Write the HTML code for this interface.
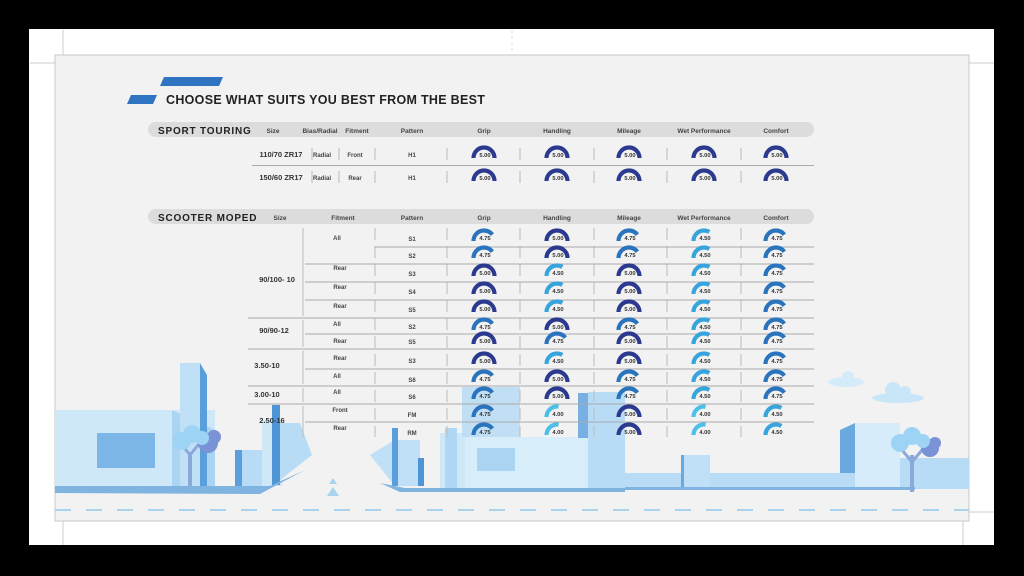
<!DOCTYPE html>
<html><head><meta charset="utf-8"><style>
html,body{margin:0;padding:0;background:#000;}
svg{display:block;font-family:"Liberation Sans",sans-serif;}
.g5{fill:none;stroke:#2b3a8f;stroke-width:4.2}
.g475{fill:none;stroke:#2a74bd;stroke-width:4.2;stroke-dasharray:26 40}
.g45{fill:none;stroke:#37a4dc;stroke-width:4.2;stroke-dasharray:22 40}
.g4{fill:none;stroke:#4cc0e8;stroke-width:4.2;stroke-dasharray:18 40}
.v{font-size:5.8px;fill:#333;text-anchor:middle;font-weight:bold}
.h{font-size:6.5px;fill:#444;text-anchor:middle;font-weight:bold}
.c{font-size:6px;fill:#444;text-anchor:middle;font-weight:bold}
.s{font-size:7.5px;fill:#333;text-anchor:middle;font-weight:bold}
</style></head><body>
<svg width="1024" height="576" viewBox="0 0 1024 576" xmlns="http://www.w3.org/2000/svg">
<defs><path id="a" d="M-10.5,0 A10.5,10.5 0 0 1 10.5,0"/></defs>
<rect width="1024" height="576" fill="#000"/>
<rect x="29" y="29" width="965" height="516" fill="#fff"/>
<line x1="63" y1="30" x2="63" y2="55" stroke="#ccc"/><line x1="30" y1="63" x2="55" y2="63" stroke="#ccc"/>
<line x1="512" y1="30" x2="512" y2="55" stroke="#ddd" stroke-dasharray="3 3"/>
<line x1="969" y1="63" x2="994" y2="63" stroke="#ccc"/><line x1="963" y1="521" x2="963" y2="545" stroke="#ccc"/>
<line x1="63" y1="521" x2="63" y2="545" stroke="#ccc"/><line x1="969" y1="512" x2="994" y2="512" stroke="#ccc"/>
<rect x="55" y="55" width="914" height="466" fill="#f2f2f2" stroke="#c8c8c8"/>

<!-- city -->
<g>
<rect x="55" y="410" width="160" height="76" fill="#cfe8f8"/>
<polygon points="172,410 215,430 215,486 172,486" fill="#a9d4f2"/>
<rect x="97" y="433" width="58" height="35" fill="#7bb6e6"/>
<rect x="180" y="363" width="20" height="123" fill="#bfe0f7"/>
<polygon points="200,363 207,375 207,486 200,486" fill="#5a9fdc"/>
<rect x="235" y="450" width="27" height="36" fill="#b8dcf5"/><rect x="235" y="450" width="7" height="36" fill="#5a9fdc"/>
<rect x="262" y="420" width="20" height="66" fill="#cfe8f8"/>
<rect x="272" y="405" width="8" height="80" fill="#4f95d6"/>
<polygon points="280,423 300,423 312,455 280,480" fill="#b8dcf5"/>
<polygon points="55,486 270,486 305,470 260,494 55,493" fill="#7fb4e0"/>
<line x1="190" y1="486" x2="190" y2="452" stroke="#8aa9d9" stroke-width="4"/>
<line x1="190" y1="455" x2="178" y2="440" stroke="#8aa9d9" stroke-width="3"/>
<line x1="190" y1="455" x2="202" y2="440" stroke="#8aa9d9" stroke-width="3"/>
<circle cx="208" cy="443" r="10" fill="#7a92d6"/><circle cx="214" cy="437" r="7" fill="#7a92d6"/>
<circle cx="182" cy="441" r="9" fill="#9dd4f5"/><circle cx="192" cy="434" r="9" fill="#9dd4f5"/><circle cx="202" cy="438" r="7" fill="#9dd4f5"/>
<polygon points="333,478 337,484 329,484" fill="#a9d4ef"/><polygon points="333,487 339,496 327,496" fill="#a9d4ef"/>

<polygon points="370,455 395,440 420,440 420,486 395,486" fill="#bfe0f7"/>
<rect x="392" y="428" width="6" height="58" fill="#5a9fdc"/>
<rect x="418" y="458" width="6" height="28" fill="#4f95d6"/>
<rect x="440" y="433" width="40" height="55" fill="#cfe8f8"/>
<rect x="445" y="428" width="12" height="60" fill="#b0d8f4"/>
<rect x="462" y="387" width="58" height="50" fill="#b8dcf5" opacity="0.85"/>
<rect x="465" y="437" width="160" height="52" fill="#d8edfa"/>
<rect x="477" y="448" width="38" height="23" fill="#a9d4f2"/>
<rect x="578" y="393" width="10" height="45" fill="#5a9fdc" opacity="0.8"/>
<rect x="588" y="392" width="37" height="96" fill="#b8dcf5"/>
<polygon points="380,483 400,492 625,492 625,488 405,488" fill="#7fb4e0"/>
<rect x="625" y="473" width="230" height="16" fill="#b8dcf5"/>
<rect x="681" y="455" width="29" height="34" fill="#bfe0f7"/><rect x="681" y="455" width="3" height="34" fill="#6aa9e0"/>
<polygon points="840,430 855,423 855,473 840,473" fill="#6aa9e0"/>
<rect x="855" y="423" width="45" height="66" fill="#d6ecfa"/>
<rect x="900" y="458" width="69" height="31" fill="#b8dcf5"/>
<rect x="625" y="487" width="290" height="3" fill="#7fb4e0"/>
<line x1="912" y1="492" x2="912" y2="455" stroke="#8aa9d9" stroke-width="4"/>
<line x1="912" y1="462" x2="902" y2="450" stroke="#8aa9d9" stroke-width="3"/>
<line x1="912" y1="462" x2="922" y2="450" stroke="#8aa9d9" stroke-width="3"/>
<circle cx="930" cy="448" r="9" fill="#7a92d6"/><circle cx="935" cy="443" r="6" fill="#7a92d6"/>
<circle cx="900" cy="443" r="9" fill="#9dd4f5"/><circle cx="912" cy="436" r="9" fill="#9dd4f5"/><circle cx="923" cy="441" r="7" fill="#9dd4f5"/>
<ellipse cx="846" cy="382" rx="18" ry="5" fill="#d4ebf9"/><circle cx="848" cy="377" r="6" fill="#d4ebf9"/>
<ellipse cx="898" cy="398" rx="26" ry="5" fill="#c9e6f8"/><circle cx="893" cy="390" r="8" fill="#c9e6f8"/><circle cx="905" cy="392" r="6" fill="#c9e6f8"/>
<line x1="55" y1="510" x2="969" y2="510" stroke="#a9d4ef" stroke-width="2" stroke-dasharray="16 15"/>
</g>

<!-- title -->
<polygon points="164,77 223,77 219,86 160,86" fill="#2f74c0"/>
<polygon points="131,95 157,95 153,104 127,104" fill="#2f74c0"/>
<text x="166" y="104" font-size="12.5" font-weight="bold" fill="#222" letter-spacing="0.3">CHOOSE WHAT SUITS YOU BEST FROM THE BEST</text>

<!-- sport touring -->
<rect x="148" y="122" width="666" height="15" rx="7.5" fill="#dcdcdc"/>
<text x="158" y="134" font-size="10" font-weight="bold" fill="#222" letter-spacing="0.8">SPORT TOURING</text>
<g><text x="273" y="133" class="h">Size</text><text x="320" y="133" class="h">Bias/Radial</text><text x="357" y="133" class="h">Fitment</text><text x="412" y="133" class="h">Pattern</text><text x="484" y="133" class="h">Grip</text><text x="557" y="133" class="h">Handling</text><text x="629" y="133" class="h">Mileage</text><text x="704" y="133" class="h">Wet Performance</text><text x="776" y="133" class="h">Comfort</text></g>
<line x1="252" y1="165.5" x2="814" y2="165.5" stroke="#aaa"/>
<g stroke="#bbb"><line x1="312" y1="148" x2="312" y2="160"/><line x1="339" y1="148" x2="339" y2="160"/><line x1="375" y1="148" x2="375" y2="160"/><line x1="447" y1="148" x2="447" y2="160"/><line x1="520" y1="148" x2="520" y2="160"/><line x1="594" y1="148" x2="594" y2="160"/><line x1="667" y1="148" x2="667" y2="160"/><line x1="741" y1="148" x2="741" y2="160"/>
<line x1="312" y1="171" x2="312" y2="183"/><line x1="339" y1="171" x2="339" y2="183"/><line x1="375" y1="171" x2="375" y2="183"/><line x1="447" y1="171" x2="447" y2="183"/><line x1="520" y1="171" x2="520" y2="183"/><line x1="594" y1="171" x2="594" y2="183"/><line x1="667" y1="171" x2="667" y2="183"/><line x1="741" y1="171" x2="741" y2="183"/></g>
<text x="281" y="157" class="s">110/70 ZR17</text><text x="322" y="157" class="c">Radial</text><text x="355" y="157" class="c">Front</text><text x="412" y="157" class="c">H1</text>
<text x="281" y="180" class="s">150/60 ZR17</text><text x="322" y="180" class="c">Radial</text><text x="355" y="180" class="c">Rear</text><text x="412" y="180" class="c">H1</text>
<g>
<use href="#a" x="484" y="158" class="g5"/><use href="#a" x="557" y="158" class="g5"/><use href="#a" x="629" y="158" class="g5"/><use href="#a" x="704" y="158" class="g5"/><use href="#a" x="776" y="158" class="g5"/>
<use href="#a" x="484" y="181" class="g5"/><use href="#a" x="557" y="181" class="g5"/><use href="#a" x="629" y="181" class="g5"/><use href="#a" x="704" y="181" class="g5"/><use href="#a" x="776" y="181" class="g5"/>
</g>
<g class="v"><text x="485" y="157">5.00</text><text x="558" y="157">5.00</text><text x="630" y="157">5.00</text><text x="705" y="157">5.00</text><text x="777" y="157">5.00</text>
<text x="485" y="180">5.00</text><text x="558" y="180">5.00</text><text x="630" y="180">5.00</text><text x="705" y="180">5.00</text><text x="777" y="180">5.00</text></g>

<!-- scooter -->
<rect x="148" y="209" width="666" height="15" rx="7.5" fill="#dcdcdc"/>
<text x="158" y="221" font-size="10" font-weight="bold" fill="#222" letter-spacing="0.8">SCOOTER MOPED</text>
<g><text x="280" y="220" class="h">Size</text><text x="343" y="220" class="h">Fitment</text><text x="412" y="220" class="h">Pattern</text><text x="484" y="220" class="h">Grip</text><text x="557" y="220" class="h">Handling</text><text x="629" y="220" class="h">Mileage</text><text x="704" y="220" class="h">Wet Performance</text><text x="776" y="220" class="h">Comfort</text></g>
<g stroke="#bbb">
<line x1="303" y1="228" x2="303" y2="316"/><line x1="303" y1="320" x2="303" y2="347"/><line x1="303" y1="351" x2="303" y2="384"/><line x1="303" y1="388" x2="303" y2="402"/><line x1="303" y1="406" x2="303" y2="437"/>
<line x1="375" y1="228" x2="375" y2="437" stroke-dasharray="12 6"/><line x1="447" y1="228" x2="447" y2="437" stroke-dasharray="12 6"/><line x1="520" y1="228" x2="520" y2="437" stroke-dasharray="12 6"/><line x1="594" y1="228" x2="594" y2="437" stroke-dasharray="12 6"/><line x1="667" y1="228" x2="667" y2="437" stroke-dasharray="12 6"/><line x1="741" y1="228" x2="741" y2="437" stroke-dasharray="12 6"/>
</g>
<g stroke="#aaa">
<line x1="375" y1="247" x2="814" y2="247"/><line x1="305" y1="264" x2="814" y2="264"/><line x1="305" y1="282" x2="814" y2="282"/><line x1="305" y1="300" x2="814" y2="300"/>
<line x1="248" y1="318" x2="814" y2="318"/><line x1="305" y1="334" x2="814" y2="334"/><line x1="248" y1="349" x2="814" y2="349"/><line x1="305" y1="369" x2="814" y2="369"/>
<line x1="248" y1="386" x2="814" y2="386"/><line x1="248" y1="404" x2="814" y2="404"/><line x1="305" y1="422" x2="814" y2="422"/>
</g>
<g class="s"><text x="277" y="282">90/100- 10</text><text x="274" y="333">90/90-12</text><text x="267" y="368">3.50-10</text><text x="267" y="397">3.00-10</text><text x="272" y="423">2.50-16</text></g>
<g class="c"><text x="337" y="240">All</text><text x="340" y="270">Rear</text><text x="340" y="289">Rear</text><text x="340" y="308">Rear</text><text x="337" y="326">All</text><text x="340" y="343">Rear</text><text x="340" y="360">Rear</text><text x="337" y="378">All</text><text x="337" y="394">All</text><text x="340" y="412">Front</text><text x="340" y="430">Rear</text></g>
<g class="c"><text x="412" y="241">S1</text><text x="412" y="258">S2</text><text x="412" y="276">S3</text><text x="412" y="294">S4</text><text x="412" y="312">S5</text><text x="412" y="329">S2</text><text x="412" y="344">S5</text><text x="412" y="363">S3</text><text x="412" y="382">S6</text><text x="412" y="399">S6</text><text x="412" y="417">FM</text><text x="412" y="435">RM</text></g>
<g>
<use href="#a" x="484" y="241" class="g475"/><use href="#a" x="557" y="241" class="g5"/><use href="#a" x="629" y="241" class="g475"/><use href="#a" x="704" y="241" class="g45"/><use href="#a" x="776" y="241" class="g475"/>
<use href="#a" x="484" y="258" class="g475"/><use href="#a" x="557" y="258" class="g5"/><use href="#a" x="629" y="258" class="g475"/><use href="#a" x="704" y="258" class="g45"/><use href="#a" x="776" y="258" class="g475"/>
<use href="#a" x="484" y="276" class="g5"/><use href="#a" x="557" y="276" class="g45"/><use href="#a" x="629" y="276" class="g5"/><use href="#a" x="704" y="276" class="g45"/><use href="#a" x="776" y="276" class="g475"/>
<use href="#a" x="484" y="294" class="g5"/><use href="#a" x="557" y="294" class="g45"/><use href="#a" x="629" y="294" class="g5"/><use href="#a" x="704" y="294" class="g45"/><use href="#a" x="776" y="294" class="g475"/>
<use href="#a" x="484" y="312" class="g5"/><use href="#a" x="557" y="312" class="g45"/><use href="#a" x="629" y="312" class="g5"/><use href="#a" x="704" y="312" class="g45"/><use href="#a" x="776" y="312" class="g475"/>
<use href="#a" x="484" y="330" class="g475"/><use href="#a" x="557" y="330" class="g5"/><use href="#a" x="629" y="330" class="g475"/><use href="#a" x="704" y="330" class="g45"/><use href="#a" x="776" y="330" class="g475"/>
<use href="#a" x="484" y="344" class="g5"/><use href="#a" x="557" y="344" class="g475"/><use href="#a" x="629" y="344" class="g5"/><use href="#a" x="704" y="344" class="g45"/><use href="#a" x="776" y="344" class="g475"/>
<use href="#a" x="484" y="364" class="g5"/><use href="#a" x="557" y="364" class="g45"/><use href="#a" x="629" y="364" class="g5"/><use href="#a" x="704" y="364" class="g45"/><use href="#a" x="776" y="364" class="g475"/>
<use href="#a" x="484" y="382" class="g475"/><use href="#a" x="557" y="382" class="g5"/><use href="#a" x="629" y="382" class="g475"/><use href="#a" x="704" y="382" class="g45"/><use href="#a" x="776" y="382" class="g475"/>
<use href="#a" x="484" y="399" class="g475"/><use href="#a" x="557" y="399" class="g5"/><use href="#a" x="629" y="399" class="g475"/><use href="#a" x="704" y="399" class="g45"/><use href="#a" x="776" y="399" class="g475"/>
<use href="#a" x="484" y="417" class="g475"/><use href="#a" x="557" y="417" class="g4"/><use href="#a" x="629" y="417" class="g5"/><use href="#a" x="704" y="417" class="g4"/><use href="#a" x="776" y="417" class="g45"/>
<use href="#a" x="484" y="435" class="g475"/><use href="#a" x="557" y="435" class="g4"/><use href="#a" x="629" y="435" class="g5"/><use href="#a" x="704" y="435" class="g4"/><use href="#a" x="776" y="435" class="g45"/>
</g>
<g class="v">
<text x="485" y="240">4.75</text><text x="558" y="240">5.00</text><text x="630" y="240">4.75</text><text x="705" y="240">4.50</text><text x="777" y="240">4.75</text>
<text x="485" y="257">4.75</text><text x="558" y="257">5.00</text><text x="630" y="257">4.75</text><text x="705" y="257">4.50</text><text x="777" y="257">4.75</text>
<text x="485" y="275">5.00</text><text x="558" y="275">4.50</text><text x="630" y="275">5.00</text><text x="705" y="275">4.50</text><text x="777" y="275">4.75</text>
<text x="485" y="293">5.00</text><text x="558" y="293">4.50</text><text x="630" y="293">5.00</text><text x="705" y="293">4.50</text><text x="777" y="293">4.75</text>
<text x="485" y="311">5.00</text><text x="558" y="311">4.50</text><text x="630" y="311">5.00</text><text x="705" y="311">4.50</text><text x="777" y="311">4.75</text>
<text x="485" y="329">4.75</text><text x="558" y="329">5.00</text><text x="630" y="329">4.75</text><text x="705" y="329">4.50</text><text x="777" y="329">4.75</text>
<text x="485" y="343">5.00</text><text x="558" y="343">4.75</text><text x="630" y="343">5.00</text><text x="705" y="343">4.50</text><text x="777" y="343">4.75</text>
<text x="485" y="363">5.00</text><text x="558" y="363">4.50</text><text x="630" y="363">5.00</text><text x="705" y="363">4.50</text><text x="777" y="363">4.75</text>
<text x="485" y="381">4.75</text><text x="558" y="381">5.00</text><text x="630" y="381">4.75</text><text x="705" y="381">4.50</text><text x="777" y="381">4.75</text>
<text x="485" y="398">4.75</text><text x="558" y="398">5.00</text><text x="630" y="398">4.75</text><text x="705" y="398">4.50</text><text x="777" y="398">4.75</text>
<text x="485" y="416">4.75</text><text x="558" y="416">4.00</text><text x="630" y="416">5.00</text><text x="705" y="416">4.00</text><text x="777" y="416">4.50</text>
<text x="485" y="434">4.75</text><text x="558" y="434">4.00</text><text x="630" y="434">5.00</text><text x="705" y="434">4.00</text><text x="777" y="434">4.50</text>
</g>
</svg>
</body></html>
